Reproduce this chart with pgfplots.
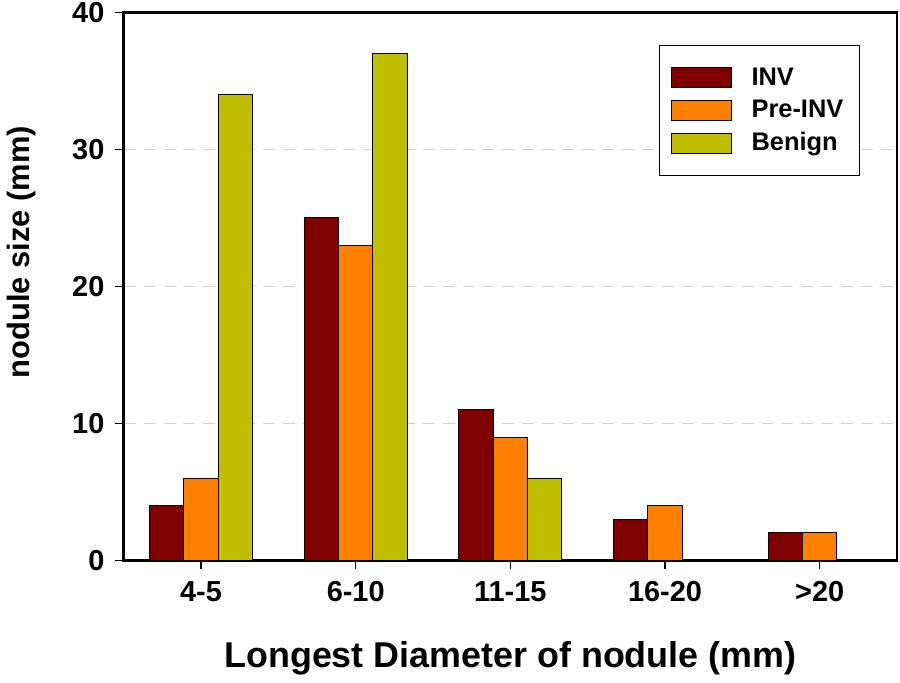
\documentclass[border=0pt]{standalone}
\usepackage{fontspec}
\setmainfont{Liberation Sans}
\usepackage{pgfplots}
\pgfplotsset{compat=1.18}
\definecolor{invc}{RGB}{128,0,0}
\definecolor{prec}{RGB}{255,128,0}
\definecolor{benc}{RGB}{191,191,0}
\begin{document}
\begin{tikzpicture}
\begin{axis}[
  scale only axis,
  width=388pt, height=275pt,
  ybar=0pt, bar width=0.222,
  xmin=-0.5, xmax=4.5,
  ymin=0, ymax=40,
  xtick={0,1,2,3,4},
  xticklabels={4-5,6-10,11-15,16-20,>20},
  ytick={0,10,20,30,40},
  tick align=outside,
  xtick pos=bottom, ytick pos=left,
  major tick length=4.5pt,
  tick style={black, line width=0.6pt},
  axis line style={line width=1.3pt},
  ymajorgrids,
  grid style={gray!35, line width=0.6pt, dash pattern=on 6pt off 4pt},
  /pgf/number format/assume math mode=true,
  ticklabel style={font=\fontsize{14.5}{16}\selectfont\bfseries, inner sep=1pt},
  yticklabel style={xshift=-4pt},
  xticklabel style={yshift=-5pt},
  xlabel={Longest Diameter of nodule (mm)},
  ylabel={nodule size (mm)},
  xlabel style={font=\fontsize{18}{20}\selectfont\bfseries, at={(axis description cs:0.5,0)}, anchor=base, yshift=-54pt},
  ylabel style={font=\fontsize{15.5}{18}\selectfont\bfseries, at={(axis description cs:0,0.562)}, anchor=center, yshift=51.5pt},
  legend style={at={(0.952,0.94)}, anchor=north east, draw=black, line width=0.6pt,
    font=\fontsize{12.75}{15}\selectfont\bfseries, inner xsep=6pt, inner ysep=9pt,
    row sep=2pt},
  legend cell align=left,
  legend image code/.code={\draw[#1, line width=0.6pt] (0pt,-5pt) rectangle (30pt,5pt);
    \path[draw=none] (0pt,0pt) (38pt,0pt);},
  every axis plot/.append style={draw=black, line width=0.5pt},
  clip=false,
]
\addplot[fill=invc] coordinates {(0,4) (1,25) (2,11) (3,3) (4,2)};
\addplot[fill=prec] coordinates {(0,6) (1,23) (2,9) (3,4) (4,2)};
\addplot[fill=benc] coordinates {(0,34) (1,37) (2,6)};
\legend{INV,Pre-INV,Benign}
\path (rel axis cs:0,0) ++(-60.5pt,-58pt) (rel axis cs:1,1) ++(1.5pt,5pt);
\end{axis}
\end{tikzpicture}
\end{document}
